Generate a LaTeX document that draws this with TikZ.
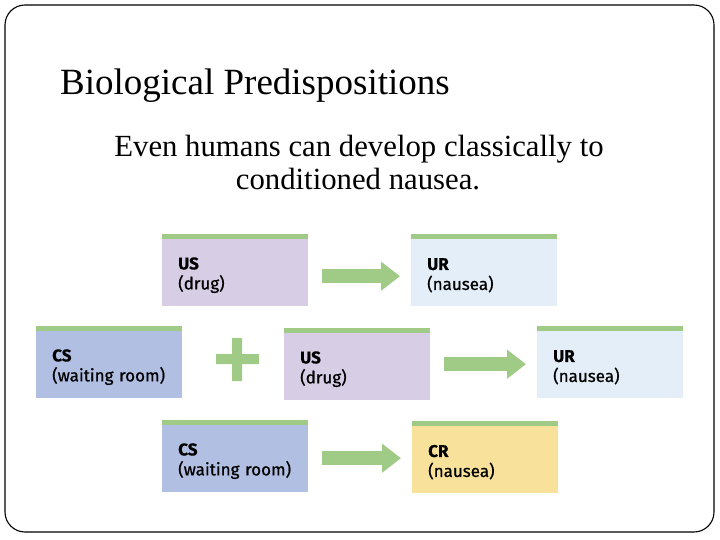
\documentclass[tikz,border=0pt]{standalone}
\usepackage{fontspec}
\setmainfont{Liberation Serif}
\newfontfamily\boxfont{Fira Sans}[FakeBold=0.7]
\usetikzlibrary{arrows.meta, positioning}
\definecolor{barGreen}{HTML}{9FCB86}
\definecolor{csBlue}{HTML}{B1BFE2}
\definecolor{usLilac}{HTML}{D7CDE4}
\definecolor{urBlue}{HTML}{E3EEF9}
\definecolor{crYellow}{HTML}{F8E29B}

\begin{document}
\begin{tikzpicture}[x=1pt, y=-1pt,
  stim/.style={anchor=north west, fill=#1, minimum width=146pt, minimum height=72pt,
    text width=114pt, inner xsep=16pt, inner ysep=0pt, align=left,
    font=\boxfont\fontsize{17}{20}\selectfont,
    execute at begin node={\rule{0pt}{22pt}},
    path picture={\fill[barGreen] (path picture bounding box.north west)
      rectangle ([yshift=-5pt]path picture bounding box.north east);}},
  flow/.style={barGreen, line width=14pt, -{Triangle[length=19pt, width=28pt]},
    shorten <=14pt, shorten >=11pt}]
\useasboundingbox (0,0) rectangle (720,540);
\draw[line width=1.1pt, rounded corners=20pt] (5,5) rectangle (714,532);

\node[anchor=base west, inner sep=0pt, font=\fontsize{37}{44}\selectfont] (title) at (60,95) {Biological Predispositions};
\node[anchor=base, inner sep=0pt, font=\fontsize{30.75}{34}\selectfont] (sub1) at (359,157) {Even humans can develop classically to};
\node[anchor=base, inner sep=0pt, font=\fontsize{30.75}{34}\selectfont] (sub2) at (358,190) {conditioned nausea.};

% before conditioning
\node[stim=usLilac] (us1) at (162,234) {\textbf{US}\\(drug)};
\node[stim=urBlue] (ur1) at (411,234) {\textbf{UR}\\(nausea)};
\draw[flow] ([yshift=-6pt]us1.east) -- ([yshift=-6pt]us1.east -| ur1.west);

% during conditioning
\node[stim=csBlue] (cs2) at (36,326) {\textbf{CS}\\(waiting room)};
\node[stim=usLilac] (us2) at (284,328) {\textbf{US}\\(drug)};
\node[stim=urBlue] (ur2) at (537,326) {\textbf{UR}\\(nausea)};
\fill[barGreen] (216,354) rectangle (259,364) (232,338) rectangle (242,381);
\draw[flow] (us2.east) -- (us2.east -| ur2.west);

% after conditioning
\node[stim=csBlue] (cs3) at (162,420) {\textbf{CS}\\(waiting room)};
\node[stim=crYellow] (cr3) at (412,421) {\textbf{CR}\\(nausea)};
\draw[flow] ([yshift=-2pt]cs3.east) -- ([yshift=-2pt]cs3.east -| cr3.west);
\end{tikzpicture}
\end{document}
